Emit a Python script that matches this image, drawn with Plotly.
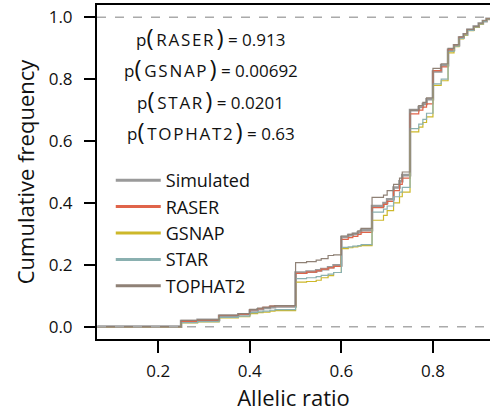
import plotly.graph_objects as go

# ---- data ----
allelic_ratio = [0.067, 0.25, 0.286, 0.333, 0.375, 0.4, 0.417, 0.429, 0.444, 0.455,
                 0.5, 0.524, 0.545, 0.556, 0.571, 0.583, 0.6, 0.615, 0.625, 0.636,
                 0.643, 0.667, 0.692, 0.7, 0.714, 0.727, 0.733, 0.75, 0.769, 0.778,
                 0.786, 0.8, 0.818, 0.833, 0.846, 0.857, 0.867, 0.875, 0.889, 0.9,
                 0.909, 0.917, 0.93]

simulated = [0, 0.018, 0.022, 0.035, 0.040, 0.052, 0.056, 0.060, 0.063, 0.065,
             0.175, 0.178, 0.182, 0.186, 0.192, 0.198, 0.290, 0.296, 0.300, 0.305,
             0.312, 0.390, 0.400, 0.412, 0.450, 0.470, 0.490, 0.700, 0.710, 0.720,
             0.735, 0.825, 0.845, 0.895, 0.910, 0.935, 0.945, 0.960, 0.970, 0.980,
             0.988, 0.995, 1.0]
raser = [0, 0.016, 0.020, 0.036, 0.040, 0.055, 0.058, 0.062, 0.066, 0.068,
         0.172, 0.176, 0.180, 0.186, 0.190, 0.195, 0.282, 0.288, 0.292, 0.298,
         0.305, 0.385, 0.395, 0.405, 0.440, 0.460, 0.480, 0.688, 0.700, 0.710,
         0.720, 0.828, 0.840, 0.895, 0.910, 0.935, 0.945, 0.960, 0.970, 0.980,
         0.988, 0.995, 1.0]
gsnap = [0, 0.012, 0.015, 0.028, 0.032, 0.042, 0.045, 0.047, 0.050, 0.052,
         0.144, 0.146, 0.150, 0.158, 0.165, 0.175, 0.252, 0.255, 0.258, 0.260,
         0.262, 0.344, 0.360, 0.375, 0.400, 0.420, 0.435, 0.630, 0.645, 0.660,
         0.678, 0.780, 0.795, 0.885, 0.905, 0.930, 0.942, 0.957, 0.968, 0.978,
         0.987, 0.994, 1.0]
star = [0, 0.013, 0.016, 0.030, 0.034, 0.045, 0.048, 0.050, 0.053, 0.055,
        0.155, 0.158, 0.162, 0.166, 0.170, 0.175, 0.256, 0.258, 0.260, 0.262,
        0.265, 0.370, 0.380, 0.390, 0.420, 0.435, 0.450, 0.640, 0.655, 0.670,
        0.690, 0.785, 0.800, 0.890, 0.907, 0.932, 0.943, 0.958, 0.969, 0.979,
        0.987, 0.994, 1.0]
tophat2 = [0, 0.020, 0.022, 0.037, 0.042, 0.056, 0.060, 0.062, 0.066, 0.068,
           0.207, 0.210, 0.215, 0.220, 0.230, 0.232, 0.293, 0.298, 0.302, 0.310,
           0.318, 0.418, 0.425, 0.440, 0.460, 0.480, 0.500, 0.700, 0.715, 0.725,
           0.740, 0.835, 0.850, 0.900, 0.912, 0.937, 0.947, 0.961, 0.971, 0.981,
           0.989, 0.995, 1.0]

series_names = ["Simulated", "RASER", "GSNAP", "STAR", "TOPHAT2"]
series_values = [simulated, raser, gsnap, star, tophat2]
p_labels = ["RASER", "GSNAP", "STAR", "TOPHAT2"]
p_values = ["0.913", "0.00692", "0.0201", "0.63"]
x_ticks = [0.2, 0.4, 0.6, 0.8]
y_ticks = [0.0, 0.2, 0.4, 0.6, 0.8, 1.0]

# ---- styles ----
colors = ["#9a9a9a", "#e0644a", "#cdb82a", "#8ab0b0", "#8f8176"]
widths = [2.6, 1.2, 1.2, 1.2, 1.2]
FONT = "Open Sans"
HAIR = "\u200a"
THIN = "\u2009"

fig = go.Figure()
for name, vals, c, w in zip(series_names, series_values, colors, widths):
    fig.add_trace(go.Scatter(x=allelic_ratio, y=vals, mode="lines",
                             line=dict(color=c, width=w, shape="hv"),
                             showlegend=False, hoverinfo="skip"))
# legend entries (thick swatches)
for name, c in zip(series_names, colors):
    fig.add_trace(go.Scatter(x=[None], y=[None], mode="lines", name=name,
                             line=dict(color=c, width=3)))

# dashed reference lines at 0 and 1
for yv in (0, 1):
    fig.add_shape(type="line", xref="paper", x0=0, x1=1, yref="y", y0=yv, y1=yv,
                  line=dict(color="#aaaaaa", width=1.5, dash="dash"))

# p-value annotations
for i, (lab, pv) in enumerate(zip(p_labels, p_values)):
    spaced = HAIR.join(lab)
    txt = ("p<span style='font-size:24px'>(</span>" + THIN + spaced + THIN +
           "<span style='font-size:24px'>)</span> = " + pv)
    fig.add_annotation(x=0.29, y=0.905 - 0.0935 * i, xref="paper", yref="paper",
                       xanchor="center", yanchor="middle",
                       text=txt, showarrow=False,
                       font=dict(family=FONT, size=17, color="#111111"))

fig.update_layout(
    width=490, height=413,
    margin=dict(l=97, r=0, t=5, b=73.5),
    paper_bgcolor="white", plot_bgcolor="white",
    font=dict(family=FONT, size=16, color="#111111"),
    legend=dict(x=0.035, y=0.53, xanchor="left", yanchor="top",
                font=dict(family=FONT, size=18, color="#111111"),
                bgcolor="rgba(0,0,0,0)", itemwidth=45, tracegroupgap=0),
)
fig.update_xaxes(range=[0.0663, 0.9246], tickvals=x_ticks,
                 ticktext=[f"{v:.1f}" for v in x_ticks],
                 showgrid=False, zeroline=False,
                 showline=True, linecolor="black", linewidth=2, mirror=True,
                 ticks="outside", ticklen=12, tickwidth=2, tickcolor="black",
                 ticklabelstandoff=4, tickfont=dict(size=17),
                 title=dict(text="Allelic ratio", font=dict(size=22), standoff=9))
fig.update_yaxes(range=[-0.04, 1.04], tickvals=y_ticks,
                 ticktext=[f"{v:.1f}" for v in y_ticks],
                 showgrid=False, zeroline=False,
                 showline=True, linecolor="black", linewidth=2,
                 ticks="outside", ticklen=11, tickwidth=2, tickcolor="black",
                 ticklabelstandoff=8, tickfont=dict(size=17),
                 title=dict(text="Cumulative frequency", font=dict(size=22), standoff=8))

fig.write_html("out.html")
